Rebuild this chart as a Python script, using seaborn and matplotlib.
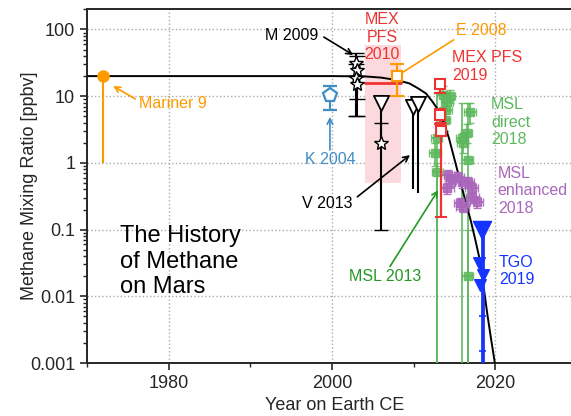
import numpy as np
import pandas as pd
import matplotlib
matplotlib.use("Agg")
import matplotlib.pyplot as plt
import matplotlib.ticker as mticker
import seaborn as sns

sns.set_style("ticks")
plt.rcParams["font.family"] = ["Liberation Sans", "DejaVu Sans"]

ORANGE = "#FF9900"
RED    = "#EE3333"
KBLUE  = "#3F8DC6"
GREEN  = "#5DB85D"
DGREEN = "#229922"
PURPLE = "#AA66BB"
TBLUE  = "#1535FF"
PINK   = "#FCD9DD"

# ── model curve ──────────────────────────────────────────────
curve_year = [1970, 2000, 2004, 2006, 2008, 2009.5, 2010.5, 2011.5, 2012.3,
              2013.0, 2013.7, 2014.3, 2014.8, 2015.5, 2016.3, 2017.0, 2017.6,
              2018.1, 2018.5, 2019.0, 2019.5, 2020.0]
curve_val  = [20, 20, 19.8, 19, 17.4, 15.5, 13.2, 11, 8.3,
              6.2, 4.0, 2.4, 1.4, 0.66, 0.28, 0.135, 0.066,
              0.035, 0.016, 0.0056, 0.0022, 0.0009]

# ── Mariner 9 ────────────────────────────────────────────────
mar_year, mar_val, mar_lo = [1972], [20], [1]

# ── K 2004 ───────────────────────────────────────────────────
k_year, k_val, k_lo, k_hi = [1999.7], [10.3], [6.2], [14.2]

# ── M 2009 ───────────────────────────────────────────────────
m_year = [2003.0, 2003.1, 2003.0, 2003.1]
m_val  = [31, 25, 18.5, 15]
m_lo   = [20, 5, 5, 9]
m_hi   = [44, 40, 30, 20]

# ── MEX PFS 2010 ─────────────────────────────────────────────
pfs10_years = [2004.0, 2008.4]
pfs10_mean  = 15.8
pfs10_range = [0.5, 58]

# ── E 2008 ───────────────────────────────────────────────────
e_year, e_val, e_lo, e_hi = [2008.0], [20], [10], [30]

# ── V 2013 ───────────────────────────────────────────────────
v_star_year, v_star_val, v_star_lo, v_star_hi = [2006.0], [2.0], [0.1], [4.0]
v_tri_year = [2006.0, 2009.9, 2010.5]
v_tri_val  = [7.9, 6.9, 7.7]
v_tri_lo   = [2.0, 0.4, 0.35]

# ── MEX PFS 2019 ─────────────────────────────────────────────
pfs19_year = [2013.2, 2013.25, 2013.3]
pfs19_val  = [15, 5.2, 3.0]
pfs19_lo   = [11, 3.8, 0.155]
pfs19_hi   = [18, 6.5, 4.0]

# ── MSL direct 2018 ──────────────────────────────────────────
msl_year = [2012.8, 2012.6, 2012.9, 2013.6, 2013.8, 2014.1, 2014.4,
            2014.0, 2015.9, 2016.0, 2016.5, 2016.6, 2016.9, 2016.6]
msl_val  = [2.4, 1.4, 0.73, 10.4, 4.4, 8.2, 10,
            6.2, 2.4, 2.0, 2.8, 1.1, 5.8, 0.02]
msl_lo   = [0.0009, 0.9, 0.0009, 7, 3, 6, 8,
            4.5, 0.0009, 1.4, 2.0, 0.0009, 4, 0.0009]
msl_hi   = [11, 2.0, 1.0, 14, 6, 11, 12.5,
            8, 8, 2.8, 3.8, 8, 8, 0.1]

# ── MSL enhanced 2018 ────────────────────────────────────────
enh_year = [2014.2, 2014.7, 2014.1, 2015.4, 2015.9, 2016.6,
            2017.1, 2015.7, 2016.0, 2017.2, 2017.7]
enh_val  = [0.66, 0.55, 0.42, 0.62, 0.52, 0.52,
            0.42, 0.25, 0.22, 0.31, 0.26]

# ── TGO 2019 ─────────────────────────────────────────────────
tgo_year = [2018.35, 2018.0, 2018.5, 2018.1]
tgo_val  = [0.1, 0.032, 0.021, 0.015]
tgo_caps = [0.005, 0.0015]


def asym(vals, lo, hi):
    v = np.array(vals)
    return [v - np.array(lo), np.array(hi) - v]


fig = plt.figure(figsize=(5.71, 4.16), dpi=100)
ax = fig.add_axes([87 / 571, 53 / 416, 490 / 571, 353.6 / 416])

# curve
sns.lineplot(x=curve_year, y=curve_val, ax=ax, color="black", lw=1.4,
             sort=False, zorder=4)

# MEX PFS 2010 shaded range
ax.fill_between(pfs10_years, pfs10_range[0], pfs10_range[1],
                color=PINK, lw=0, zorder=1)
ax.plot(pfs10_years, [pfs10_mean, pfs10_mean], color=RED, lw=2, zorder=3)

# Mariner 9
ax.errorbar(mar_year, mar_val, yerr=[[mar_val[0] - mar_lo[0]], [0]],
            fmt="o", color=ORANGE, ms=8, elinewidth=1.5, capsize=0, zorder=5)

# K 2004
ax.errorbar(k_year, k_val, yerr=asym(k_val, k_lo, k_hi), fmt="p",
            mfc="white", mec=KBLUE, mew=1.6, ms=10, color=KBLUE,
            elinewidth=1.5, capsize=5, capthick=1.5, zorder=5)

# M 2009
ax.errorbar(m_year, m_val, yerr=asym(m_val, m_lo, m_hi), fmt="*",
            mfc="white", mec="black", mew=1.0, ms=10, color="black",
            elinewidth=1.5, capsize=5.5, capthick=1.5, zorder=5)

# E 2008
ax.errorbar(e_year, e_val, yerr=asym(e_val, e_lo, e_hi), fmt="s",
            mfc="white", mec=ORANGE, mew=1.5, ms=7, color=ORANGE,
            elinewidth=1.5, capsize=5, capthick=1.5, zorder=5)

# V 2013
ax.errorbar(v_star_year, v_star_val,
            yerr=asym(v_star_val, v_star_lo, v_star_hi), fmt="*",
            mfc="white", mec="black", mew=1.0, ms=10, color="black",
            elinewidth=1.5, capsize=5, capthick=1.5, zorder=5)
ax.vlines(v_tri_year, v_tri_lo, v_tri_val, color="black", lw=1.5, zorder=4)
sns.scatterplot(x=v_tri_year, y=v_tri_val, ax=ax, marker="v", s=120,
                facecolor="white", edgecolor="black", linewidth=1.3, zorder=5)

# MSL direct 2018
ax.errorbar(msl_year, msl_val, yerr=asym(msl_val, msl_lo, msl_hi), xerr=0.7,
            fmt="s", color=GREEN, ms=6, elinewidth=1.4, capsize=3,
            alpha=0.85, zorder=3)

# MEX PFS 2019
ax.errorbar(pfs19_year, pfs19_val, yerr=asym(pfs19_val, pfs19_lo, pfs19_hi),
            fmt="s", mfc="white", mec=RED, mew=1.5, ms=7, color=RED,
            elinewidth=1.6, capsize=4, capthick=1.5, zorder=5)

# MSL enhanced 2018
ax.errorbar(enh_year, enh_val, yerr=np.array(enh_val) * 0.18, xerr=0.8,
            fmt="s", color=PURPLE, ms=6, elinewidth=1.4, capsize=3,
            alpha=0.9, zorder=4)

# TGO 2019
ax.vlines([tgo_year[0], tgo_year[0] + 0.2], 0.0009, tgo_val[0],
          color=TBLUE, lw=2, zorder=5)
ax.hlines(tgo_caps, tgo_year[0] - 0.3, tgo_year[0] + 0.5, color=TBLUE,
          lw=1.2, zorder=5)
ax.scatter(tgo_year[:1], tgo_val[:1], marker="v", s=170, color=TBLUE, zorder=6)
ax.scatter(tgo_year[1:], tgo_val[1:], marker="v", s=70, color=TBLUE, zorder=6)

# ── axes ─────────────────────────────────────────────────────
ax.set_yscale("log")
ax.set_xlim(1970, 2030)
ax.set_ylim(0.001, 200)
ax.xaxis.set_major_locator(mticker.FixedLocator([1980, 2000, 2020]))
ax.xaxis.set_minor_locator(mticker.MultipleLocator(10))
ax.yaxis.set_major_locator(mticker.LogLocator(base=10, numticks=10))
ax.yaxis.set_minor_locator(mticker.LogLocator(base=10, subs=np.arange(2, 10),
                                              numticks=20))
ax.yaxis.set_major_formatter(mticker.FuncFormatter(lambda v, p: f"{v:g}"))
ax.yaxis.set_minor_formatter(mticker.NullFormatter())
ax.tick_params(which="major", labelsize=13, length=5, width=1.2)
ax.tick_params(which="minor", length=3, width=1)
ax.grid(which="major", linestyle=":", color="#AAAAAA", lw=1)
for s in ax.spines.values():
    s.set_linewidth(1.4)
ax.set_xlabel("Year on Earth CE", fontsize=13)
ax.set_ylabel("Methane Mixing Ratio [ppbv]", fontsize=13)
ax.xaxis.set_label_coords(0.505, -0.095)
ax.yaxis.set_label_coords(-0.1, 0.5)

# ── annotations ──────────────────────────────────────────────
fs = 11.5
def arrow(xy, xytext, color, style="->"):
    ax.annotate("", xy=xy, xytext=xytext,
                arrowprops=dict(arrowstyle=style, color=color, lw=1.2,
                                shrinkA=0, shrinkB=0))

ax.text(1976.4, 7.9, "Mariner 9", color=ORANGE, fontsize=fs, va="center")
arrow((1973.2, 14.2), (1975.9, 9.1), ORANGE)

ax.text(1995.1, 82, "M 2009", color="black", fontsize=fs, ha="center", va="center")
arrow((2002.6, 41.5), (1999.0, 77), "black")

ax.text(1999.75, 1.14, "K 2004", color=KBLUE, fontsize=fs, ha="center", va="center")
arrow((1999.75, 4.9), (1999.75, 1.56), KBLUE)

ax.text(2006.1, 77, "MEX\nPFS\n2010", color=RED, fontsize=fs, ha="center",
        va="center", linespacing=1.2)

ax.text(2015.2, 98, "E 2008", color=ORANGE, fontsize=fs, va="center")
arrow((2008.2, 21), (2014.9, 70), ORANGE, "-")

ax.text(1999.4, 0.25, "V 2013", color="black", fontsize=fs, ha="center", va="center")
arrow((2009.55, 1.31), (2003.1, 0.31), "black")

ax.text(2006.5, 0.0195, "MSL 2013", color=DGREEN, fontsize=fs, ha="center", va="center")
arrow((2013.0, 0.39), (2007.1, 0.028), DGREEN)

ax.text(2014.7, 27.9, "MEX PFS\n2019", color=RED, fontsize=fs, va="center",
        linespacing=1.2)
ax.text(2019.5, 4.1, "MSL\ndirect\n2018", color=GREEN, fontsize=fs, va="center",
        linespacing=1.2)
ax.text(2020.3, 0.38, "MSL\nenhanced\n2018", color=PURPLE, fontsize=fs,
        va="center", linespacing=1.2)
ax.text(2020.45, 0.024, "TGO\n2019", color=TBLUE, fontsize=fs, va="center",
        linespacing=1.2)

ax.text(1974.0, 0.033, "The History\nof Methane\non Mars", color="black",
        fontsize=17, va="center", linespacing=1.2)

plt.savefig("out.png", dpi=100)
plt.close()
